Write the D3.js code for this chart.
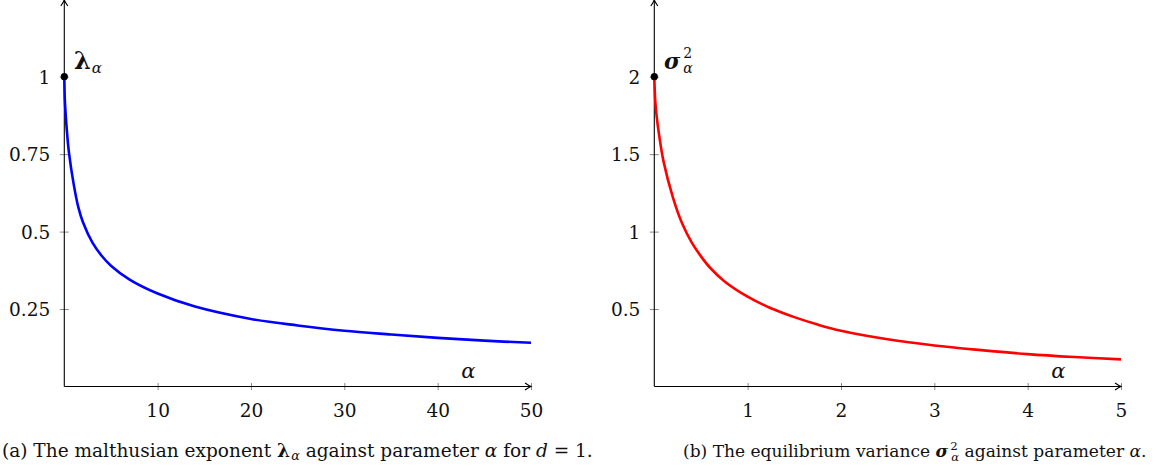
<!DOCTYPE html>
<html>
<head>
<meta charset="utf-8">
<script src="https://cdn.jsdelivr.net/npm/d3@7"></script>
<style>
  html, body { margin: 0; padding: 0; background: #fff; }
  svg { display: block; }
  svg text { font-family: "DejaVu Serif", serif; fill: #111; }
</style>
</head>
<body>
<svg id="chart" width="1161" height="466"></svg>
<script>
// ---- data ----
const lambdaAlpha = [0, 0.05, 0.1, 0.25, 0.5, 1, 1.5, 2, 3, 4, 5, 7, 10, 14, 20, 25, 30, 35, 40, 45, 50];
const lambdaValues = [1, 0.93, 0.90, 0.835, 0.755, 0.654, 0.579, 0.53, 0.465, 0.422, 0.39, 0.345, 0.30, 0.258, 0.218, 0.197, 0.180, 0.168, 0.157, 0.148, 0.141];

const sigmaAlpha = [0, 0.01, 0.025, 0.05, 0.1, 0.2, 0.3, 0.4, 0.5, 0.6, 0.75, 1, 1.25, 1.5, 1.75, 2, 2.5, 3, 3.5, 4, 4.5, 5];
const sigmaValues = [2, 1.845, 1.745, 1.63, 1.45, 1.22, 1.05, 0.93, 0.84, 0.765, 0.68, 0.58, 0.505, 0.448, 0.40, 0.36, 0.305, 0.265, 0.235, 0.209, 0.19, 0.175];

const leftXTicks = [10, 20, 30, 40, 50];
const leftXTickLabels = ["10", "20", "30", "40", "50"];
const leftYTicks = [0.25, 0.5, 0.75, 1];
const leftYTickLabels = ["0.25", "0.5", "0.75", "1"];
const rightXTicks = [1, 2, 3, 4, 5];
const rightXTickLabels = ["1", "2", "3", "4", "5"];
const rightYTicks = [0.5, 1, 1.5, 2];
const rightYTickLabels = ["0.5", "1", "1.5", "2"];

// ---- drawing ----
const svg = d3.select("#chart");
const TICK_FONT = 18.5;

function panel(cfg) {
  const x = d3.scaleLinear().domain(cfg.xDomain).range([cfg.x0, cfg.x1]);
  const y = d3.scaleLinear().domain(cfg.yDomain).range([386.5, -0.75]);
  const g = svg.append("g");

  // x axis
  const xa = g.append("g").attr("transform", `translate(0,${y(0)})`)
    .call(d3.axisBottom(x).tickValues(cfg.xTicks)
      .tickFormat((d, i) => cfg.xTickLabels[i]).tickSizeOuter(0));
  xa.attr("font-family", null).attr("font-size", null);
  xa.select(".domain").remove();
  xa.selectAll(".tick line").attr("y1", -3.5).attr("y2", 3.5)
    .attr("stroke", "#888").attr("stroke-width", 1);
  xa.selectAll(".tick text").attr("y", 30).attr("dy", null)
    .attr("font-size", TICK_FONT).attr("fill", "#111");

  // y axis
  const ya = g.append("g").attr("transform", `translate(${x(0)},0)`)
    .call(d3.axisLeft(y).tickValues(cfg.yTicks)
      .tickFormat((d, i) => cfg.yTickLabels[i]).tickSizeOuter(0));
  ya.attr("font-family", null).attr("font-size", null);
  ya.select(".domain").remove();
  ya.selectAll(".tick line").attr("x1", -4.5).attr("x2", 4.5)
    .attr("stroke", "#888").attr("stroke-width", 1);
  ya.selectAll(".tick text").attr("x", -14).attr("dy", "0.36em")
    .attr("font-size", TICK_FONT).attr("fill", "#111");

  // axis lines
  const xe = x(cfg.xDomain[1]);
  const yt = y(cfg.yDomain[1]) + 0.75;
  g.append("line").attr("x1", x(0)).attr("x2", xe).attr("y1", y(0)).attr("y2", y(0))
    .attr("stroke", "#000").attr("stroke-width", 1.1);
  g.append("line").attr("x1", x(0)).attr("x2", x(0)).attr("y1", y(0)).attr("y2", yt)
    .attr("stroke", "#000").attr("stroke-width", 1.1);
  // arrow heads
  g.append("path")
    .attr("d", `M${xe - 6},${y(0) - 3.5} Q${xe - 2},${y(0) - 0.8} ${xe},${y(0)} Q${xe - 2},${y(0) + 0.8} ${xe - 6},${y(0) + 3.5}`)
    .attr("fill", "none").attr("stroke", "#000").attr("stroke-width", 1.1);
  g.append("path")
    .attr("d", `M${x(0) - 3.5},${yt + 6} Q${x(0) - 0.8},${yt + 2} ${x(0)},${yt} Q${x(0) + 0.8},${yt + 2} ${x(0) + 3.5},${yt + 6}`)
    .attr("fill", "none").attr("stroke", "#000").attr("stroke-width", 1.1);

  // curve
  const line = d3.line().x(d => x(d[0])).y(d => y(d[1])).curve(d3.curveCatmullRom.alpha(0.5));
  g.append("path").datum(cfg.xs.map((a, i) => [a, cfg.ys[i]]))
    .attr("d", line).attr("fill", "none").attr("stroke", cfg.color)
    .attr("stroke-width", 2.6).attr("stroke-linejoin", "round");

  // dot
  g.append("circle").attr("cx", x(cfg.xs[0])).attr("cy", y(cfg.ys[0])).attr("r", 3.6).attr("fill", "#000");

  // alpha axis label
  g.append("text").attr("x", x(cfg.alphaLabelAt)).attr("y", 378)
    .attr("text-anchor", "middle").attr("font-size", 21).attr("font-style", "italic").text("α");

  return { g, x, y };
}

panel({
  xDomain: [0, 50], yDomain: [0, 1.25], x0: 64.3, x1: 531,
  xTicks: leftXTicks, xTickLabels: leftXTickLabels,
  yTicks: leftYTicks, yTickLabels: leftYTickLabels,
  xs: lambdaAlpha, ys: lambdaValues, color: "#0000ff", alphaLabelAt: 43.3
});
panel({
  xDomain: [0, 5], yDomain: [0, 2.5], x0: 654.3, x1: 1121,
  xTicks: rightXTicks, xTickLabels: rightXTickLabels,
  yTicks: rightYTicks, yTickLabels: rightYTickLabels,
  xs: sigmaAlpha, ys: sigmaValues, color: "#ff0000", alphaLabelAt: 4.33
});

// point labels
const lamLab = svg.append("text").attr("x", 74).attr("y", 69).attr("font-size", 24);
lamLab.append("tspan").attr("font-weight", "bold").text("λ");
lamLab.append("tspan").attr("font-size", 15).attr("font-style", "italic").attr("dy", 4).attr("dx", 1).text("α");

const sigLab = svg.append("text").attr("x", 664).attr("y", 69).attr("font-size", 22);
sigLab.append("tspan").attr("font-weight", "bold").attr("font-style", "italic").text("σ");
sigLab.append("tspan").attr("font-size", 14).attr("dy", -11).attr("dx", 3).text("2");
sigLab.append("tspan").attr("font-size", 14).attr("font-style", "italic").attr("dy", 15).attr("dx", -9).text("α");

// captions
function caption(x, y, width, parts) {
  const base = 16;
  const t = svg.append("text").attr("x", x).attr("y", y).attr("font-size", base);
  const spans = parts.map(p => {
    const s = t.append("tspan").text(p.t);
    if (p.b) s.attr("font-weight", "bold");
    if (p.i) s.attr("font-style", "italic");
    return { s, p };
  });
  function applySizes(fs) {
    t.attr("font-size", fs);
    spans.forEach(({ s, p }) => {
      const k = fs / base;
      if (p.fs) s.attr("font-size", p.fs * k);
      if (p.dy) s.attr("dy", p.dy * k);
      if (p.dx) s.attr("dx", p.dx * k);
    });
  }
  applySizes(base);
  const w = t.node().getComputedTextLength();
  if (w > 0) {
    applySizes(base * width / w);
  }
  return t;
}
caption(2, 457, 590, [
  { t: "(a) The malthusian exponent " },
  { t: "λ", b: true },
  { t: "α", i: true, fs: 11, dy: 3, dx: 1 },
  { t: " against parameter ", dy: -3 },
  { t: "α", i: true },
  { t: " for " },
  { t: "d", i: true },
  { t: " = 1." }
]);
caption(683, 457, 468, [
  { t: "(b) The equilibrium variance " },
  { t: "σ", b: true, i: true },
  { t: "2", fs: 11, dy: -7, dx: 2 },
  { t: "α", i: true, fs: 11, dy: 11, dx: -6 },
  { t: " against parameter ", dy: -4 },
  { t: "α", i: true },
  { t: "." }
]);
</script>
</body>
</html>
